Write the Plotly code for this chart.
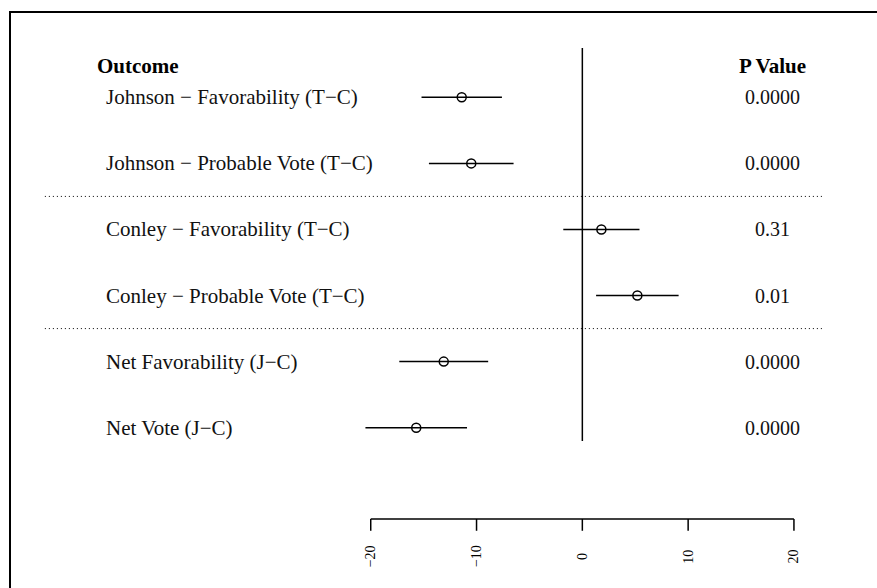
import plotly.graph_objects as go

outcomes = [
    "Johnson \u2212 Favorability (T\u2212C)",
    "Johnson \u2212 Probable Vote (T\u2212C)",
    "Conley \u2212 Favorability (T\u2212C)",
    "Conley \u2212 Probable Vote (T\u2212C)",
    "Net Favorability (J\u2212C)",
    "Net Vote (J\u2212C)",
]
estimates = [-11.4, -10.5, 1.8, 5.2, -13.1, -15.7]
ci_low = [-15.2, -14.5, -1.8, 1.3, -17.3, -20.5]
ci_high = [-7.6, -6.5, 5.4, 9.1, -8.9, -10.9]
p_values = ["0.0000", "0.0000", "0.31", "0.01", "0.0000", "0.0000"]
ticks = [-20, -10, 0, 10, 20]
tick_labels = ["\u221220", "\u221210", "0", "10", "20"]
separators = [2.5, 4.5]

W, H = 877, 588
rows = list(range(1, len(outcomes) + 1))

# coordinate mapping (data -> pixel)
x0, x1 = -55.04, 27.85
y_top, y_bot = -0.4725, 8.426

SERIF = "Palatino Linotype, Book Antiqua, Palatino, URW Palladio L, Liberation Serif, serif"

fig = go.Figure()

# CI lines
xs, ys = [], []
for lo, hi, r in zip(ci_low, ci_high, rows):
    xs += [lo, hi, None]
    ys += [r, r, None]
fig.add_trace(go.Scatter(x=xs, y=ys, mode="lines",
                         line=dict(color="black", width=1.5),
                         hoverinfo="skip", showlegend=False))
# point estimates
fig.add_trace(go.Scatter(x=estimates, y=rows, mode="markers",
                         marker=dict(symbol="circle-open", size=9,
                                     color="black", line=dict(width=1.5)),
                         showlegend=False))

# axis line and ticks
fig.add_trace(go.Scatter(x=[ticks[0], ticks[-1]], y=[7.382, 7.382], mode="lines",
                         line=dict(color="black", width=1.5),
                         hoverinfo="skip", showlegend=False))
tx, ty = [], []
for t in ticks:
    tx += [t, t, None]
    ty += [7.382, 7.56, None]
fig.add_trace(go.Scatter(x=tx, y=ty, mode="lines",
                         line=dict(color="black", width=1.5),
                         hoverinfo="skip", showlegend=False))

shapes = []
# vertical zero line
shapes.append(dict(type="line", xref="x", yref="y", x0=0, x1=0, y0=0.254, y1=6.201,
                   line=dict(color="black", width=1.5)))
# dotted separators
for s in separators:
    shapes.append(dict(type="line", xref="x", yref="y", x0=-50.8, x1=22.65, y0=s, y1=s,
                       line=dict(color="black", width=1, dash="1px,3px")))
# border (left/top visible)
shapes.append(dict(type="rect", xref="paper", yref="paper",
                   x0=10 / W, x1=1.05, y0=-0.1, y1=1 - 12 / H,
                   line=dict(color="black", width=2)))

annotations = []
annotations.append(dict(x=95 / W, xref="paper", y=0.52, yref="y", text="<b>Outcome</b>",
                        showarrow=False, xanchor="left", yanchor="middle",
                        font=dict(family=SERIF, size=21, color="black")))
annotations.append(dict(x=772 / W, xref="paper", y=0.52, yref="y", text="<b>P Value</b>",
                        showarrow=False, xanchor="center", yanchor="middle",
                        font=dict(family=SERIF, size=21, color="black")))
for lab, p, r in zip(outcomes, p_values, rows):
    annotations.append(dict(x=104 / W, xref="paper", y=r, yref="y", text=lab,
                            showarrow=False, xanchor="left", yanchor="middle",
                            font=dict(family=SERIF, size=21, color="#111111")))
    annotations.append(dict(x=772 / W, xref="paper", y=r, yref="y", text=p,
                            showarrow=False, xanchor="center", yanchor="middle",
                            font=dict(family=SERIF, size=20, color="#111111")))
for t, tl in zip(ticks, tick_labels):
    annotations.append(dict(x=t, xref="x", y=7.95, yref="y", text=tl, textangle=-90,
                            showarrow=False, xanchor="center", yanchor="middle",
                            font=dict(family=SERIF, size=14, color="black")))

fig.update_layout(
    width=W, height=H,
    margin=dict(l=0, r=0, t=0, b=0),
    paper_bgcolor="white", plot_bgcolor="white",
    xaxis=dict(range=[x0, x1], visible=False, fixedrange=True),
    yaxis=dict(range=[y_bot, y_top], visible=False, fixedrange=True),
    shapes=shapes, annotations=annotations,
    showlegend=False,
)

fig.write_html("out.html", config={"displayModeBar": False},
               post_script="document.body.style.margin='0';")
